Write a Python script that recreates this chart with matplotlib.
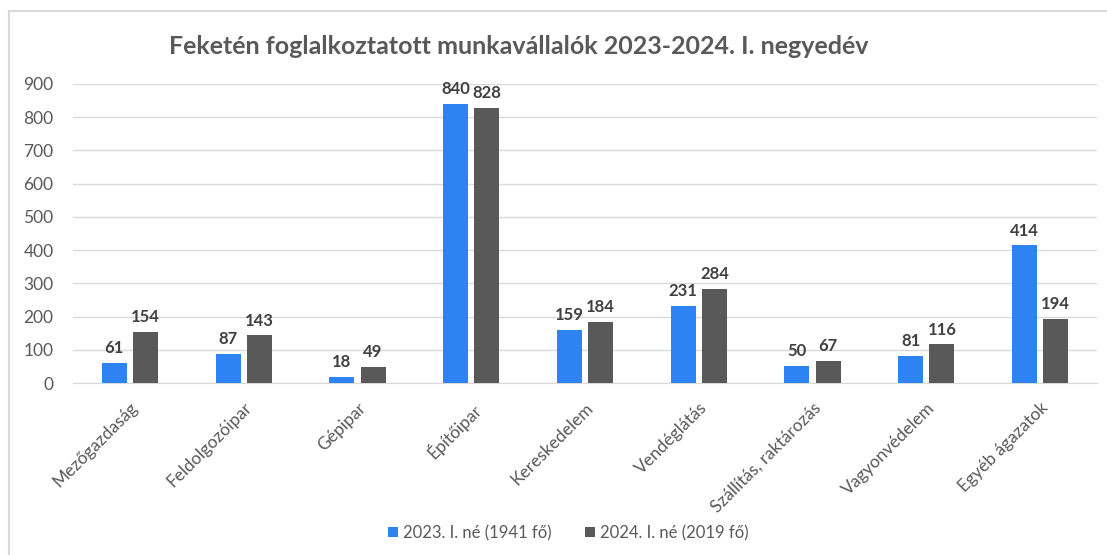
import numpy as np
import matplotlib.pyplot as plt
from matplotlib.patches import Rectangle

# Data
categories = ['Mezőgazdaság', 'Feldolgozóipar', 'Gépipar', 'Építőipar', 'Kereskedelem',
              'Vendéglátás', 'Szállítás, raktározás', 'Vagyonvédelem', 'Egyéb ágazatok']
values_2023 = [61, 87, 18, 840, 159, 231, 50, 81, 414]
values_2024 = [154, 143, 49, 828, 184, 284, 67, 116, 194]
series_names = ['2023. I. né (1941 fő)', '2024. I. né (2019 fő)']
title = 'Feketén foglalkoztatott munkavállalók 2023-2024. I. negyedév'

plt.rcParams['font.family'] = ['Lato', 'DejaVu Sans']

blue = '#2E83F2'
gray = '#595959'
text_col = '#595959'

fig = plt.figure(figsize=(11.07, 5.55), dpi=100)
ax = fig.add_axes([73 / 1107, 1 - 383 / 555, 1024 / 1107, 299 / 555])

# light chart-area border (open at right and bottom like the crop)
fig.patches.append(Rectangle((9 / 1107, -0.1), 1.2, 1 - 11 / 555 + 0.1,
                             transform=fig.transFigure, fill=False,
                             edgecolor='#D9D9D9', linewidth=1.5))

x = np.arange(len(categories))
w = 0.22
off = 0.137
b1 = ax.bar(x - off, values_2023, w, color=blue, label=series_names[0], zorder=3)
b2 = ax.bar(x + off, values_2024, w, color=gray, label=series_names[1], zorder=3)

for bars in (b1, b2):
    for rect in bars:
        h = rect.get_height()
        ax.annotate(f'{int(h)}', (rect.get_x() + rect.get_width() / 2, h),
                    xytext=(0, 5), textcoords='offset points', ha='center', va='bottom',
                    fontsize=12, fontweight='bold', color='#404040')

ax.set_xlim(-0.5, len(categories) - 0.5)
ax.set_ylim(0, 900)
ax.set_yticks(range(0, 901, 100))
ax.yaxis.grid(True, color='#D9D9D9', linewidth=1, zorder=0)
ax.set_axisbelow(True)
for s in ['top', 'right', 'left']:
    ax.spines[s].set_visible(False)
ax.spines['bottom'].set_color('#D9D9D9')
ax.tick_params(axis='both', length=0, colors=text_col, labelsize=12.5)
ax.tick_params(axis='y', pad=14)
ax.set_xticks(x)
ax.set_xticklabels(categories, rotation=45, ha='right', rotation_mode='anchor')
ax.tick_params(axis='x', pad=12)

fig.text(0.469, 1 - 47 / 555, title, ha='center', va='center',
         fontsize=18, fontweight='bold', color=text_col)

fig.legend(loc='center', bbox_to_anchor=(0.513, 1 - 533 / 555), ncol=2, frameon=False,
           fontsize=12, labelcolor=text_col, handlelength=0.6, handleheight=0.6,
           handletextpad=0.3, columnspacing=2.0)

fig.savefig('out.png', dpi=100)
